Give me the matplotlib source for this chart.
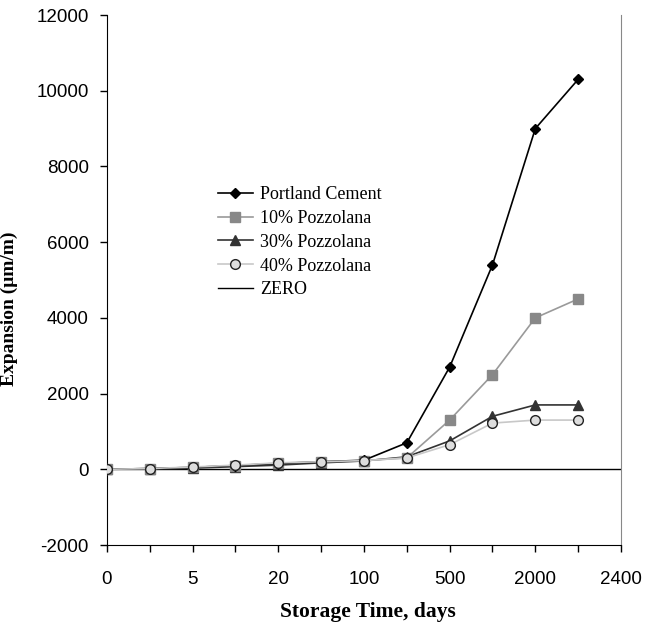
import matplotlib
matplotlib.use("Agg")
import matplotlib.pyplot as plt

plt.rcParams["axes.unicode_minus"] = False

# category axis (Excel style line chart), labels every other category
tick_labels = ["0", "", "5", "", "20", "", "100", "", "500", "", "2000", "", "2400"]

portland = [0, 20, 50, 100, 150, 200, 240, 700, 2700, 5400, 9000, 10300]
pozz_10 = [0, 20, 50, 100, 160, 200, 230, 300, 1300, 2500, 4000, 4500]
pozz_30 = [0, 10, 30, 70, 110, 170, 220, 330, 750, 1400, 1700, 1700]
pozz_40 = [0, 20, 60, 110, 170, 200, 230, 300, 650, 1220, 1300, 1300]
zero = [0] * len(tick_labels)

fig = plt.figure(figsize=(6.46, 6.23), dpi=100)
ax = fig.add_axes([0.1656, 0.1252, 0.7957, 0.8507])

x = list(range(len(portland)))
ax.plot(x, portland, color="black", lw=1.2, marker="D", ms=5,
        mfc="black", mec="black", label="Portland Cement", zorder=5)
ax.plot(x, pozz_10, color="#9a9a9a", lw=1.2, marker="s", ms=7,
        mfc="#888888", mec="#888888", label="10% Pozzolana", zorder=4)
ax.plot(x, pozz_30, color="#333333", lw=1.2, marker="^", ms=7.5,
        mfc="#333333", mec="#333333", label="30% Pozzolana", zorder=3)
ax.plot(x, pozz_40, color="#c8c8c8", lw=1.2, marker="o", ms=7,
        mfc="#dddddd", mec="#222222", mew=1, label="40% Pozzolana", zorder=6)
ax.plot(range(len(zero)), zero, color="black", lw=1, label="ZERO", zorder=2)

ax.set_xlim(0, len(tick_labels) - 1)
ax.set_ylim(-2000, 12000)
ax.set_yticks(range(-2000, 12001, 2000))
ax.set_xticks(range(len(tick_labels)))
ax.set_xticklabels(tick_labels)

ax.spines["top"].set_visible(False)
ax.spines["right"].set_color("#888888")
ax.tick_params(axis="both", direction="out", length=5, width=1, pad=8,
               labelsize=13.5, labelfontfamily="Liberation Sans", colors="black")
ax.tick_params(axis="x", pad=14)

ax.set_xlabel("Storage Time, days", fontfamily="Liberation Serif",
              fontweight="bold", fontsize=15.5)
ax.set_ylabel("Expansion (\u03bcm/m)", fontfamily="Liberation Serif",
              fontweight="bold", fontsize=14)
ax.xaxis.set_label_coords(0.508, -0.108)
ax.yaxis.set_label_coords(-0.173, 0.445)

ax.legend(loc="upper left", bbox_to_anchor=(0.184, 0.708), frameon=False,
          prop={"family": "Liberation Serif", "size": 13},
          handlelength=1.95, labelspacing=0.38, handletextpad=0.4)

plt.savefig("out.png", dpi=100)
